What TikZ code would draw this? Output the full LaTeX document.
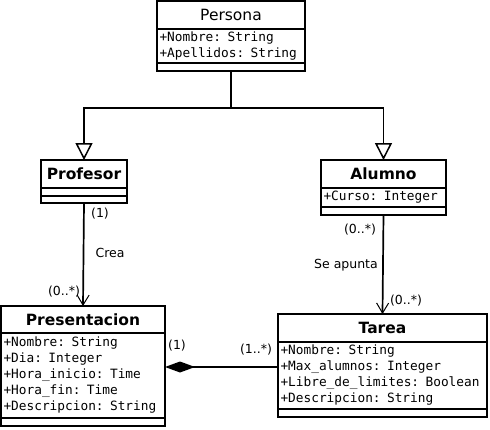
\documentclass[tikz,border=0pt]{standalone}
\usepackage{fontspec}
\setmainfont{DejaVu Sans}
\setmonofont{DejaVu Sans Mono}
\usetikzlibrary{arrows.meta,positioning}

\begin{document}
\begin{tikzpicture}[
  x=1pt, y=-1pt,
  line width=1.7pt,
  ctitle/.style={draw, outer sep=0pt, inner sep=0pt, anchor=north, minimum height=28pt,
    minimum width=#1, font=\fontsize{15.5}{18}\selectfont\bfseries},
  cattr/.style={draw, outer sep=0pt, inner xsep=2.5pt, inner ysep=0pt, align=left,
    text width=#1, font=\ttfamily\fontsize{12.8}{16}\selectfont},
  cop/.style={draw, outer sep=0pt, inner sep=0pt, minimum height=8pt, minimum width=#1},
  lbl/.style={inner sep=0pt, font=\fontsize{12.5}{15}\selectfont},
  inherit/.style={-{Triangle[length=17pt, width=17pt, fill=white, line width=1.5pt]}},
  assoc/.style={-{Straight Barb[length=10pt, width=12pt, line width=1pt]}},
  compos/.style={{Diamond[length=30pt, width=11pt]}-}
]
\useasboundingbox (0,0) rectangle (490,429);

% Persona
\node[ctitle=148pt, font=\fontsize{15.5}{18}\selectfont] (persona) at (231,1) {Persona};
\node[cattr=143pt, minimum height=34pt, below=0pt of persona] (personaA) {+Nombre: String\\+Apellidos: String};
\node[cop=148pt, below=0pt of personaA] (personaO) {};

% Profesor
\node[ctitle=86pt] (profesor) at (84,160) {Profesor};
\node[cop=86pt, below=0pt of profesor] (profesorA) {};
\node[cop=86pt, minimum height=7pt, below=0pt of profesorA] (profesorO) {};

% Alumno
\node[ctitle=125pt] (alumno) at (383.5,160) {Alumno};
\node[cattr=120pt, minimum height=19pt, below=0pt of alumno] (alumnoA) {+Curso: Integer};
\node[cop=125pt, below=0pt of alumnoA] (alumnoO) {};

% Presentacion
\node[ctitle=164pt, minimum height=27pt] (presentacion) at (83,306) {Presentacion};
\node[cattr=159pt, minimum height=85pt, below=0pt of presentacion] (presentacionA)
  {+Nombre: String\\+Dia: Integer\\+Hora\_inicio: Time\\+Hora\_fin: Time\\+Descripcion: String};
\node[cop=164pt, below=0pt of presentacionA] (presentacionO) {};

% Tarea
\node[ctitle=209pt] (tarea) at (382.5,314) {Tarea};
\node[cattr=204pt, minimum height=67pt, below=0pt of tarea] (tareaA)
  {+Nombre: String\\+Max\_alumnos: Integer\\+Libre\_de\_limites: Boolean\\+Descripcion: String};
\node[cop=209pt, below=0pt of tareaA] (tareaO) {};

% Inheritance
\draw[inherit] (personaO.south) -- ++(0,37) -| (profesor.north);
\draw[inherit] (personaO.south) -- ++(0,37) -| (alumno.north);

% Associations
\draw[assoc] (profesorO.south) -- (presentacion.north);
\draw[assoc] (alumnoO.south) -- (tarea.north);
\draw[compos] ([yshift=8.5pt]presentacionA.east) -- ([yshift=8.5pt]tareaA.west);

% Labels
\node[lbl] (creaTop) at (100,214) {(1)};
\node[lbl] (crea) at (110,253) {Crea};
\node[lbl] (creaEnd) at (64,292) {(0..*)};
\node[lbl] (apuntaTop) at (360,230) {(0..*)};
\node[lbl] (apunta) at (346,265) {Se apunta};
\node[lbl] (apuntaEnd) at (406,301) {(0..*)};
\node[lbl] (composTop) at (177,346) {(1)};
\node[lbl] (composEnd) at (256,350) {(1..*)};

\end{tikzpicture}
\end{document}
